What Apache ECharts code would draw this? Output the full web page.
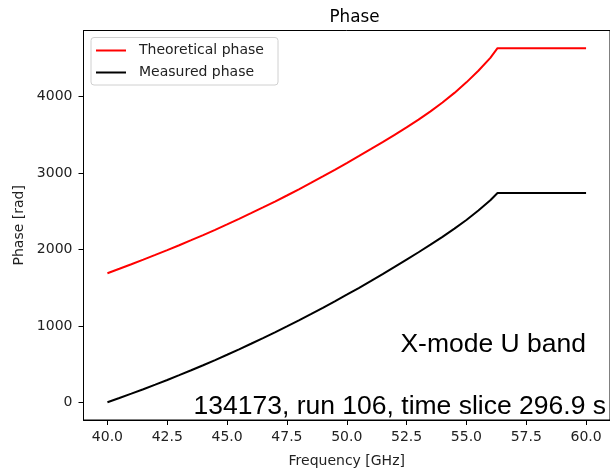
<!DOCTYPE html>
<html>
<head>
<meta charset="utf-8">
<script src="https://cdn.jsdelivr.net/npm/echarts@6/dist/echarts.min.js"></script>
<style>html,body{margin:0;padding:0;background:#fff}#c{width:610px;height:473px}</style>
</head>
<body>
<div id="c"></div>
<script>
const freq = [40, 40.5, 41, 41.5, 42, 42.5, 43, 43.5, 44, 44.5, 45, 45.5, 46, 46.5, 47, 47.5, 48, 48.5, 49, 49.5, 50, 50.5, 51, 51.5, 52, 52.5, 53, 53.5, 54, 54.5, 55, 55.5, 56, 56.3, 60];
const theoretical = [1690, 1748, 1807, 1867, 1929, 1992, 2056, 2122, 2189, 2258, 2329, 2401, 2475, 2551, 2628, 2707, 2788, 2871, 2956, 3043, 3132, 3222, 3313, 3405, 3500, 3598, 3700, 3808, 3924, 4050, 4188, 4340, 4508, 4635, 4635];
const measured = [0, 56, 113, 171, 231, 292, 355, 419, 485, 553, 622, 693, 766, 840, 916, 994, 1073, 1154, 1237, 1322, 1408, 1496, 1586, 1678, 1772, 1868, 1964, 2063, 2165, 2273, 2387, 2510, 2645, 2740, 2740];
const xTicks = [40, 42.5, 45, 47.5, 50, 52.5, 55, 57.5, 60];
const yTicks = [0, 1000, 2000, 3000, 4000];
const seriesNames = ['Theoretical phase', 'Measured phase'];
const titleText = 'Phase';
const xLabel = 'Frequency [GHz]';
const yLabel = 'Phase [rad]';
const note1 = 'X-mode U band';
const note2 = '134173, run 106, time slice 296.9 s';

const chart = echarts.init(document.getElementById('c'), null, {renderer: 'canvas'});
const font = 'DejaVu Sans';
const pair = (xs, ys) => xs.map((x, i) => [x, ys[i]]);
chart.setOption({
  animation: false,
  backgroundColor: '#fff',
  title: {text: titleText, left: 349.5, top: 4, textAlign: 'center',
    textStyle: {fontFamily: font, fontSize: 16.8, fontWeight: 'normal', color: '#000'}},
  grid: {left: 83.5, top: 30.5, bottom: 49.5, right: -5, show: true, borderColor: '#000', borderWidth: 1, containLabel: false},
  legend: {show: false},
  xAxis: {
    type: 'value', min: 39, max: 61,
    name: xLabel, nameLocation: 'middle', nameGap: 34,
    nameTextStyle: {fontFamily: font, fontSize: 14, color: '#222'},
    axisLine: {show: true, onZero: false, lineStyle: {color: '#000', width: 1}},
    axisTick: {show: true, length: 5, customValues: xTicks, lineStyle: {color: '#000'}},
    axisLabel: {show: true, customValues: xTicks, margin: 10, fontFamily: font, fontSize: 14, color: '#222',
      formatter: v => Number(v).toFixed(1)},
    splitLine: {show: false}
  },
  yAxis: {
    type: 'value', min: -231.75, max: 4866.75,
    name: yLabel, nameLocation: 'middle', nameGap: 57, nameRotate: 90,
    nameTextStyle: {fontFamily: font, fontSize: 14, color: '#222'},
    axisLine: {show: true, onZero: false, lineStyle: {color: '#000', width: 1}},
    axisTick: {show: true, length: 5, customValues: yTicks, lineStyle: {color: '#000'}},
    axisLabel: {show: true, customValues: yTicks, margin: 11, fontFamily: font, fontSize: 14, color: '#222',
      formatter: v => String(Math.round(v))},
    splitLine: {show: false}
  },
  series: [
    {name: seriesNames[0], type: 'line', data: pair(freq, theoretical), smooth: false, showSymbol: false,
      lineStyle: {color: '#ff0000', width: 2}, itemStyle: {color: '#ff0000'}},
    {name: seriesNames[1], type: 'line', data: pair(freq, measured), smooth: false, showSymbol: false,
      lineStyle: {color: '#000000', width: 2}, itemStyle: {color: '#000000'}}
  ],
  graphic: [
    {type: 'rect', shape: {x: 91, y: 37.5, width: 187, height: 47.5, r: 3},
      style: {fill: 'rgba(255,255,255,0.8)', stroke: '#d0d0d0', lineWidth: 1}},
    {type: 'line', shape: {x1: 96, y1: 50.5, x2: 126, y2: 50.5}, style: {stroke: '#ff0000', lineWidth: 2}},
    {type: 'line', shape: {x1: 96, y1: 72.5, x2: 126, y2: 72.5}, style: {stroke: '#000000', lineWidth: 2}},
    {type: 'text', x: 139, y: 50.5, style: {text: seriesNames[0], font: '14px "DejaVu Sans"', fill: '#222', verticalAlign: 'middle'}},
    {type: 'text', x: 139, y: 72.5, style: {text: seriesNames[1], font: '14px "DejaVu Sans"', fill: '#222', verticalAlign: 'middle'}},
    {type: 'text', x: 586, y: 345, style: {text: note1, font: '26.5px "Liberation Sans"', fill: '#000', align: 'right', verticalAlign: 'middle'}},
    {type: 'text', x: 606, y: 407, style: {text: note2, font: '26.5px "Liberation Sans"', fill: '#000', align: 'right', verticalAlign: 'middle'}}
  ]
});
</script>
</body>
</html>
